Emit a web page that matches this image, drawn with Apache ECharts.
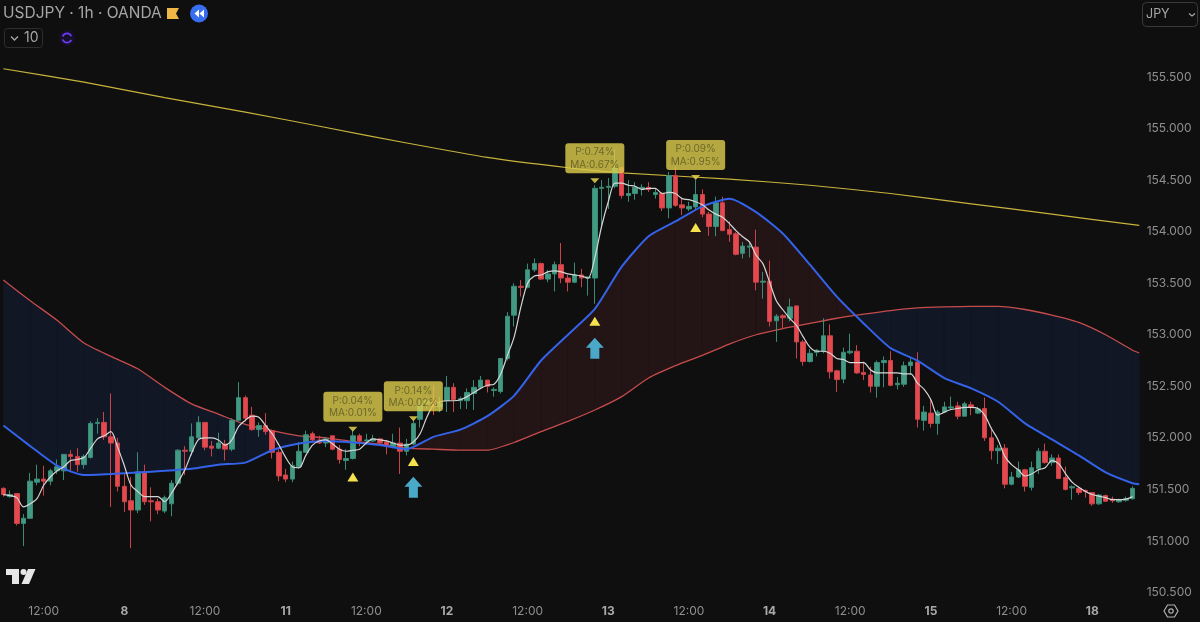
<!DOCTYPE html>
<html><head><meta charset="utf-8">
<style>html,body{margin:0;padding:0;background:#0f0f0f}#c{width:1200px;height:622px}</style>
<script src="https://cdn.jsdelivr.net/npm/echarts@6/dist/echarts.min.js"></script>
</head><body><div id="c"></div>
<script>
const tickLabels = {6:'12:00',18:'8',30:'12:00',42:'11',54:'12:00',66:'12',78:'12:00',90:'13',102:'12:00',114:'14',126:'12:00',138:'15',150:'12:00',162:'18'};
const dayLabels = ['8','11','12','13','14','15','18'];
const opens = [151.51,151.43,151.46,151.17,151.22,151.57,151.60,151.58,151.68,151.68,
151.84,151.82,151.74,151.81,152.14,152.15,152.01,151.95,151.53,151.39,
151.30,151.67,151.39,151.38,151.29,151.36,151.56,151.88,151.87,152.00,
152.15,151.92,151.90,151.94,151.89,152.17,152.39,152.22,152.08,152.12,
152.07,151.86,151.64,151.60,151.72,151.86,152.04,151.98,151.95,152.02,
151.89,151.78,151.80,152.02,151.97,151.97,151.99,151.96,151.91,151.95,
151.87,151.94,152.18,152.33,152.38,152.30,152.36,152.49,152.36,152.36,
152.43,152.49,152.56,152.46,152.45,152.77,153.19,153.47,153.46,153.63,
153.69,153.54,153.59,153.68,153.55,153.51,153.58,153.55,153.55,154.42,
154.43,154.44,154.62,154.35,154.37,154.42,154.43,154.36,154.37,154.23,
154.545,154.26,154.22,154.24,154.36,154.17,154.05,154.28,154.02,153.98,
153.79,153.85,153.85,153.51,153.52,153.135,153.185,153.16,153.28,152.93,
152.74,152.83,152.84,152.99,152.65,152.57,152.825,152.84,152.635,152.61,
152.50,152.73,152.75,152.515,152.52,152.70,152.735,152.17,152.24,152.14,
152.25,152.29,152.31,152.21,152.32,152.24,152.285,152.0,151.875,151.90,
151.55,151.62,151.69,151.52,151.70,151.87,151.76,151.805,151.615,151.515,
151.51,151.49,151.47,151.36,151.44,151.405,151.38,151.395,151.41];
const closes = [151.45,151.45,151.17,151.22,151.58,151.60,151.58,151.68,151.72,151.84,
151.82,151.74,151.82,152.14,152.15,152.01,151.95,151.53,151.38,151.30,
151.67,151.38,151.38,151.30,151.42,151.56,151.88,151.87,152.01,152.15,
151.91,151.90,151.95,151.89,152.17,152.39,152.19,152.08,152.12,152.06,
151.86,151.63,151.60,151.73,151.87,152.03,151.98,151.95,151.99,151.89,
151.79,151.80,152.02,151.97,151.98,151.99,151.95,151.92,151.95,151.87,
151.94,152.14,152.33,152.36,152.30,152.33,152.49,152.37,152.38,152.44,
152.49,152.56,152.50,152.47,152.77,153.18,153.47,153.46,153.63,153.69,
153.54,153.59,153.68,153.55,153.51,153.58,153.55,153.56,154.42,154.43,
154.44,154.62,154.35,154.37,154.43,154.43,154.41,154.38,154.23,154.545,
154.255,154.23,154.245,154.36,154.17,154.05,154.28,154.01,153.975,153.78,
153.86,153.86,153.51,153.52,153.13,153.18,153.165,153.27,152.93,152.74,
152.82,152.85,152.99,152.64,152.565,152.83,152.84,152.63,152.615,152.50,
152.73,152.75,152.51,152.53,152.70,152.735,152.18,152.25,152.14,152.25,
152.30,152.30,152.21,152.33,152.30,152.28,152.0,151.875,151.90,151.55,
151.62,151.69,151.53,151.71,151.87,151.76,151.805,151.605,151.50,151.525,
151.47,151.48,151.36,151.445,151.385,151.39,151.40,151.41,151.51];
const lows = [151.43,151.42,151.15,150.95,151.22,151.54,151.44,151.54,151.65,151.59,
151.68,151.67,151.70,151.80,152.04,151.98,151.33,151.48,151.28,150.93,
151.27,151.35,151.19,151.26,151.27,151.24,151.54,151.64,151.83,151.98,
151.88,151.82,151.89,151.78,151.87,152.16,152.16,152.07,152.01,152.03,
151.80,151.58,151.57,151.57,151.70,151.86,151.96,151.94,151.91,151.88,
151.75,151.69,151.79,151.92,151.95,151.96,151.94,151.84,151.90,151.65,
151.83,151.93,152.10,152.28,152.22,152.25,152.25,152.25,152.28,152.28,
152.27,152.48,152.44,152.40,152.43,152.75,153.08,153.37,153.45,153.61,
153.53,153.51,153.42,153.50,153.42,153.50,153.46,153.38,153.30,154.05,
154.22,154.42,154.32,154.29,154.31,154.35,154.385,154.32,154.20,154.13,
154.24,154.16,154.20,154.21,154.14,153.96,153.955,154.005,153.90,153.77,
153.74,153.75,153.43,153.35,153.08,152.93,153.06,153.13,152.77,152.70,
152.73,152.79,152.82,152.575,152.445,152.53,152.81,152.62,152.56,152.44,
152.39,152.49,152.50,152.47,152.495,152.61,152.10,152.07,152.10,152.03,
152.24,152.275,152.18,152.21,152.22,152.23,151.97,151.79,151.745,151.51,
151.54,151.61,151.48,151.49,151.65,151.75,151.73,151.60,151.49,151.40,
151.445,151.42,151.34,151.35,151.38,151.37,151.37,151.38,151.40];
const highs = [151.52,151.49,151.46,151.26,151.66,151.74,151.73,151.70,151.79,151.84,
151.88,151.90,151.84,152.16,152.19,152.25,152.43,152.00,151.65,151.62,
151.86,151.74,151.52,151.41,151.44,151.59,151.89,151.92,152.14,152.21,
152.15,151.97,152.05,151.98,152.19,152.54,152.41,152.30,152.15,152.24,
152.08,151.89,151.70,151.77,151.96,152.07,152.06,152.02,152.01,152.02,
151.93,151.89,152.07,152.04,152.04,152.03,152.00,151.98,152.04,152.10,
151.99,152.17,152.37,152.40,152.51,152.40,152.60,152.53,152.40,152.48,
152.56,152.60,152.56,152.49,152.77,153.22,153.50,153.53,153.69,153.74,
153.70,153.63,153.71,153.89,153.58,153.70,153.64,153.56,154.45,154.50,
154.52,154.80,154.63,154.50,154.48,154.46,154.48,154.42,154.385,154.58,
154.63,154.32,154.29,154.50,154.41,154.19,154.34,154.34,154.10,153.995,
153.90,153.90,154.02,153.61,153.72,153.20,153.20,153.35,153.28,152.95,
152.86,152.86,153.16,153.10,152.66,152.875,153.01,152.90,152.74,152.69,
152.75,152.79,152.84,152.59,152.74,152.77,152.83,152.31,152.38,152.27,
152.35,152.40,152.35,152.35,152.35,152.30,152.39,152.10,151.93,151.94,
151.67,151.77,151.70,151.77,151.90,151.945,151.84,151.84,151.72,151.54,
151.525,151.50,151.475,151.455,151.45,151.43,151.41,151.43,151.53];
const whiteLine = [151.45,151.44,151.42,151.33,151.36,151.41,151.54,151.62,151.68,151.72,
151.78,151.79,151.81,151.90,151.99,152.02,152.06,151.91,151.73,151.54,
151.48,151.43,151.43,151.43,151.38,151.46,151.57,151.69,151.85,151.98,
152.00,152.00,151.98,151.93,151.98,152.11,152.17,152.21,152.20,152.12,
152.04,151.93,151.81,151.72,151.71,151.83,151.93,151.97,151.98,151.94,
151.89,151.87,151.88,151.89,151.95,151.99,151.98,151.97,151.95,151.93,
151.93,151.96,152.04,152.20,152.32,152.35,152.36,152.36,152.37,152.40,
152.44,152.48,152.51,152.52,152.62,152.80,152.98,153.27,153.50,153.57,
153.58,153.61,153.62,153.61,153.59,153.58,153.57,153.55,153.75,154.05,
154.29,154.47,154.47,154.45,154.44,154.41,154.42,154.42,154.37,154.38,
154.37,154.32,154.31,154.29,154.26,154.21,154.17,154.14,154.08,154.01,
153.95,153.90,153.77,153.69,153.51,153.33,153.24,153.16,153.09,152.98,
152.88,152.84,152.84,152.82,152.77,152.76,152.73,152.73,152.73,152.66,
152.63,152.63,152.63,152.63,152.62,152.62,152.53,152.47,152.37,152.22,
152.25,152.275,152.285,152.295,152.295,152.285,152.22,152.09,151.98,151.82,
151.74,151.69,151.63,151.65,151.69,151.71,151.78,151.75,151.655,151.57,
151.52,151.48,151.45,151.435,151.42,151.40,151.40,151.405,151.43];
const maIndex = [0,4,8,12,16,20,24,28,32,36,40,44,48,52,56,60,64,68,72,76,80,84,88,92,96,100,104,108,112,116,120,124,128,132,136,140,144,148,152,156,160,164,168,169];
const blueLine = [152.12,151.92,151.73,151.64,151.65,151.665,151.68,151.70,151.74,151.76,151.88,151.945,151.97,151.955,151.93,151.89,152.01,152.08,152.21,152.41,152.75,153.0,153.25,153.66,153.955,154.10,154.245,154.32,154.19,153.98,153.68,153.37,153.11,152.87,152.75,152.58,152.48,152.35,152.14,151.985,151.83,151.665,151.56,151.55];
const redLine = [153.53,153.33,153.14,152.92,152.79,152.67,152.49,152.33,152.23,152.13,152.07,152.02,152.00,151.965,151.94,151.90,151.89,151.88,151.88,151.955,152.06,152.16,152.27,152.40,152.58,152.70,152.80,152.91,153.0,153.06,153.11,153.16,153.20,153.235,153.26,153.27,153.275,153.275,153.245,153.19,153.12,153.0,152.85,152.823];
const yellowIndex = [0,12,24,36,48,60,72,84,92,108,120,132,144,156,169];
const yellowLine = [155.58,155.45,155.30,155.16,155.01,154.86,154.72,154.62,154.57,154.51,154.45,154.37,154.27,154.17,154.06];
const signalIndex = [52,61,88,103];
const signalTip = [152.06,152.16,154.47,154.50];
const signalTriangle = [151.62,151.77,153.13,154.04];
const signalText = [['P:0.04%','MA:0.01%'],['P:0.14%','MA:0.02%'],['P:0.74%','MA:0.67%'],['P:0.09%','MA:0.95%']];
const arrowIndex = [61,88];
const arrowPrice = [151.52,152.87];
const lastPrices = [152.823,151.550,151.506];
const lastColors = [['#d9534f','#c9474a'],['#3f6ff0','#2f5fe8'],['#6e6e6e','#3c3c3c']];

const N = 170, BAND = 6.75;
const categories = Array.from({length:N},(_, i)=>tickLabels[i]||'');
const FONT = 'Inter, Roboto, sans-serif';
const chart = echarts.init(document.getElementById('c'));
const candles = opens.map((o,i)=>[o,closes[i],lows[i],highs[i]]);
const fillData = maIndex.map((k,i)=>[k,blueLine[i],redLine[i]]);
const pair = (xs,ys)=>xs.map((k,i)=>[k,ys[i]]);
const NAVY='#111725', MAROON='#231416';

chart.setOption({
  animation:false, backgroundColor:'#0f0f0f',
  grid:{left:-4.875,top:25.45,width:N*BAND,height:567.05,containLabel:false},
  xAxis:{type:'category',data:categories,boundaryGap:true,
    axisLine:{show:false},axisTick:{show:false},splitLine:{show:false},
    axisLabel:{interval:0,margin:13,fontFamily:FONT,fontSize:12,color:'#8f8f8f',hideOverlap:false,
      formatter:v=>v===''?'':(dayLabels.includes(v)?'{d|'+v+'}':v),
      rich:{d:{fontFamily:FONT,fontSize:12,fontWeight:'bold',color:'#a8a8a8'}}}},
  yAxis:{type:'value',position:'right',min:150.5,max:156,interval:0.5,scale:true,
    axisLine:{show:false},axisTick:{show:false},splitLine:{show:false},
    axisLabel:{margin:4,fontFamily:FONT,fontSize:12,color:'#8f8f8f',
      formatter:v=>v>=155.9?'':v.toFixed(3)}},
  series:[
    {type:'custom',z:1,silent:true,data:fillData,encode:{x:0,y:[1,2]},
      renderItem:(p,api)=>{
        const i=p.dataIndex; if(i>=fillData.length-1) return null;
        const [k0,b0,r0]=fillData[i],[k1,b1,r1]=fillData[i+1];
        const c=(k,v)=>api.coord([k,v]);
        const poly=(pts,col)=>({type:'polygon',shape:{points:pts},style:{fill:col,stroke:col,lineWidth:0.6}});
        const d0=b0-r0,d1=b1-r1;
        if(d0*d1>=0){
          return poly([c(k0,b0),c(k1,b1),c(k1,r1),c(k0,r0)],(d0+d1)>0?MAROON:NAVY);
        }
        const t=d0/(d0-d1),km=k0+(k1-k0)*t,vm=b0+(b1-b0)*t;
        return {type:'group',children:[
          poly([c(k0,b0),c(km,vm),c(k0,r0)],d0>0?MAROON:NAVY),
          poly([c(km,vm),c(k1,b1),c(k1,r1)],d1>0?MAROON:NAVY)]};
      }},
    {type:'line',name:'yellow',z:2,data:pair(yellowIndex,yellowLine),showSymbol:false,smooth:0.2,lineStyle:{color:'#c7b33c',width:1.2}},
    {type:'line',name:'red',z:2,data:pair(maIndex,redLine),showSymbol:false,smooth:0.2,lineStyle:{color:'#c64c4c',width:1.3}},
    {type:'candlestick',z:3,barWidth:5,data:candles,
      itemStyle:{color:'#429a84',color0:'#e5484d',borderColor:'#3a8c77',borderColor0:'#c8434a',borderWidth:1}},
    {type:'line',name:'blue',z:4,data:pair(maIndex,blueLine),showSymbol:false,smooth:0.2,lineStyle:{color:'#3463ea',width:2}},
    {type:'line',name:'white',z:5,data:whiteLine,showSymbol:false,smooth:0.3,lineStyle:{color:'#d6d6d6',width:1.2}},
    {type:'scatter',z:6,silent:true,data:pair(signalIndex,signalTriangle),symbol:'triangle',symbolSize:[11,9],itemStyle:{color:'#f6e24f',opacity:1}},
    {type:'scatter',z:6,silent:true,data:pair(arrowIndex,arrowPrice),
      symbol:'path://M9 0L18 10L13.5 10L13.5 21L4.5 21L4.5 10L0 10Z',symbolSize:[18,21],itemStyle:{color:'#4aa9c9',opacity:1}},
    {type:'scatter',z:7,silent:true,symbol:'triangle',symbolRotate:180,symbolSize:[9,5],symbolOffset:[0,-2.5],
      itemStyle:{color:'#d9c94a',opacity:0.9},
      data:signalIndex.map((k,i)=>({value:[k,signalTip[i]],
        label:{formatter:signalText[i].join('\n')}})),
      label:{show:true,position:'top',distance:5,fontFamily:FONT,fontSize:10,lineHeight:12.5,color:'#66622a',align:'center',
        backgroundColor:'rgba(221,205,76,0.9)',borderRadius:3,padding:[3,0,2,0],width:59}},
    {type:'scatter',z:8,silent:true,symbolSize:1,itemStyle:{opacity:0},
      data:lastPrices.map((v,i)=>({value:[169,v],
        label:{formatter:v.toFixed(3),color:lastColors[i][0],borderColor:lastColors[i][1]}})),
      label:{show:true,position:'right',distance:-1,fontFamily:FONT,fontSize:12,lineHeight:13,align:'center',width:59,
        backgroundColor:'#0f0f0f',borderWidth:1,padding:[1,0,0,0],borderRadius:1}}
  ],
  graphic:[
    {type:'text',left:3,top:5,style:{text:'USDJPY · 1h · OANDA',font:'15.5px '+FONT,fill:'#a6a6a6'}},
    {type:'polygon',shape:{points:[[167,8],[179,8],[176,13.5],[179,19],[167,19]]},style:{fill:'#efb745'}},
    {type:'circle',shape:{cx:199,cy:13.5,r:9},style:{fill:'#3a6ef0'}},
    {type:'polygon',shape:{points:[[199,9.5],[199,17.5],[194.5,13.5]]},style:{fill:'#fff'}},
    {type:'polygon',shape:{points:[[204,9.5],[204,17.5],[199.5,13.5]]},style:{fill:'#fff'}},
    {type:'rect',shape:{x:4.5,y:28.5,width:38,height:19,r:3},style:{fill:'none',stroke:'#2e2e2e',lineWidth:1}},
    {type:'polyline',shape:{points:[[11,36.5],[14.5,40],[18,36.5]]},style:{fill:'none',stroke:'#a8a8a8',lineWidth:1.3}},
    {type:'text',left:24,top:31,style:{text:'10',font:'14px '+FONT,fill:'#a6a6a6'}},
    {type:'circle',shape:{cx:67,cy:38,r:8},style:{fill:'#170f2a'}},
    {type:'arc',shape:{cx:67,cy:38,r:4.6,startAngle:3.5,endAngle:5.9},style:{fill:'none',stroke:'#6b3df2',lineWidth:1.8}},
    {type:'arc',shape:{cx:67,cy:38,r:4.6,startAngle:0.4,endAngle:2.8},style:{fill:'none',stroke:'#6b3df2',lineWidth:1.8}},
    {type:'rect',shape:{x:1142.5,y:2.5,width:55,height:24,r:4},style:{fill:'none',stroke:'#3a3a3a',lineWidth:1}},
    {type:'text',left:1146,top:8,style:{text:'JPY',font:'12.5px '+FONT,fill:'#a6a6a6'}},
    {type:'polyline',shape:{points:[[1189,13.5],[1192,16],[1195,13.5]]},style:{fill:'none',stroke:'#a8a8a8',lineWidth:1.2}},
    {type:'polygon',shape:{points:[[6,569],[19,569],[19,584],[12,584],[12,575],[6,575]]},style:{fill:'#e6e6e6'}},
    {type:'circle',shape:{cx:23.5,cy:572,r:3},style:{fill:'#e6e6e6'}},
    {type:'polygon',shape:{points:[[28,569],[35.5,569],[29,584],[21.5,584]]},style:{fill:'#e6e6e6'}},
    {type:'polygon',shape:{points:[[1164,611],[1167.5,605],[1174.5,605],[1178,611],[1174.5,617],[1167.5,617]]},style:{fill:'none',stroke:'#b0b0b0',lineWidth:1.2}},
    {type:'circle',shape:{cx:1171,cy:611,r:2.2},style:{fill:'none',stroke:'#b0b0b0',lineWidth:1.2}}
  ]
});
</script></body></html>
